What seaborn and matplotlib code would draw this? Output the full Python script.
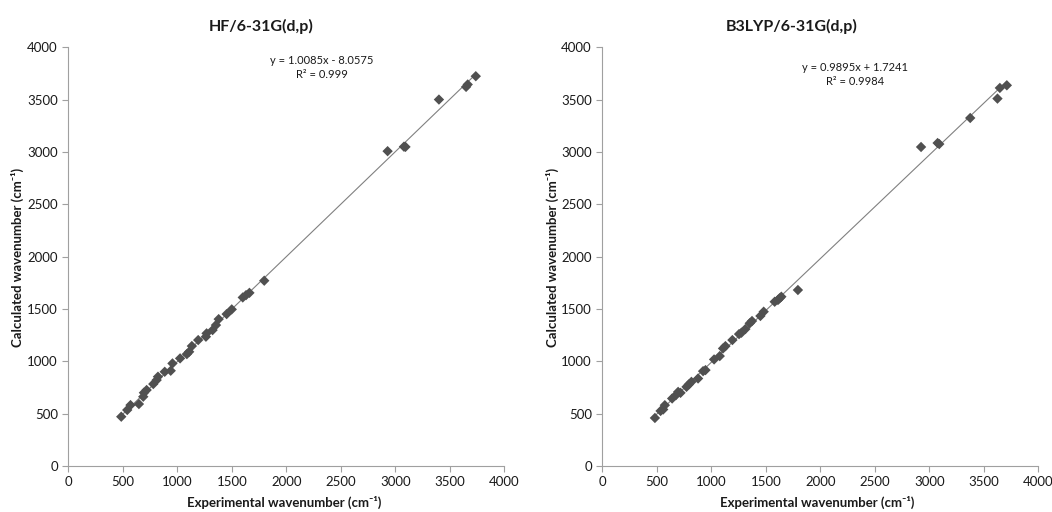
import numpy as np
import pandas as pd
import matplotlib
matplotlib.use('Agg')
from matplotlib import pyplot as plt
import seaborn as sns

# HF/6-31G(d,p): experimental vs calculated wavenumbers (cm-1)
hf_exp = [486, 541, 571, 648, 688, 694, 719, 780, 811, 823, 885, 940, 956, 1026,
          1088, 1109, 1134, 1192, 1263, 1269, 1324, 1355, 1380, 1453, 1500, 1601,
          1631, 1662, 1798, 2930, 3080, 3094, 3401, 3650, 3665, 3739]
hf_calc = [471, 535, 582, 592, 662, 700, 726, 783, 821, 853, 900, 910, 980, 1028,
           1069, 1091, 1146, 1203, 1235, 1267, 1298, 1346, 1403, 1451, 1496, 1610,
           1632, 1654, 1770, 3007, 3050, 3048, 3500, 3621, 3644, 3723]

# B3LYP/6-31G(d,p)
b3_exp = [483, 535, 559, 574, 641, 675, 696, 718, 773, 794, 818, 879, 925, 947,
          1026, 1078, 1108, 1130, 1194, 1255, 1277, 1313, 1353, 1374, 1451, 1481,
          1582, 1612, 1627, 1643, 1795, 2925, 3077, 3092, 3376, 3626, 3648, 3712]
b3_calc = [459, 526, 540, 581, 645, 676, 708, 699, 756, 779, 804, 836, 906, 916,
           1018, 1050, 1123, 1145, 1203, 1260, 1273, 1308, 1363, 1385, 1433, 1474,
           1569, 1586, 1602, 1617, 1681, 3047, 3085, 3075, 3324, 3509, 3611, 3636]

titles = ['HF/6-31G(d,p)', 'B3LYP/6-31G(d,p)']
equations = ['y = 1.0085x - 8.0575\nR² = 0.999',
             'y = 0.9895x + 1.7241\nR² = 0.9984']
ticks = [0, 500, 1000, 1500, 2000, 2500, 3000, 3500, 4000]

sns.set_style('white')
plt.rcParams['font.family'] = ['Lato', 'DejaVu Sans']

fig = plt.figure(figsize=(10.52, 5.12), dpi=100)
axes = [fig.add_axes([0.0649, 0.0898, 0.4144, 0.818]),
        fig.add_axes([0.5725, 0.0898, 0.4144, 0.818])]

datasets = [(hf_exp, hf_calc), (b3_exp, b3_calc)]
title_x = [0.248, 0.753]
xlabel_x = [0.270, 0.777]
ylabel_x = [0.017, 0.525]
eq_pos = [(0.306, 0.868), (0.813, 0.855)]

for i, ax in enumerate(axes):
    df = pd.DataFrame({'exp': datasets[i][0], 'calc': datasets[i][1]})
    sns.regplot(data=df, x='exp', y='calc', ax=ax, scatter=False, ci=None,
                truncate=True, line_kws={'color': '#808080', 'lw': 0.8})
    sns.scatterplot(data=df, x='exp', y='calc', ax=ax, marker='D', s=28,
                    color='#505050', edgecolor='none', zorder=3)
    ax.set_xlim(0, 4000)
    ax.set_ylim(0, 4000)
    ax.set_xticks(ticks)
    ax.set_yticks(ticks)
    ax.set_xlabel('')
    ax.set_ylabel('')
    for side in ['top', 'right']:
        ax.spines[side].set_visible(False)
    for side in ['left', 'bottom']:
        ax.spines[side].set_color('#a0a0a0')
        ax.spines[side].set_linewidth(0.8)
    ax.tick_params(axis='both', direction='out', length=4, width=0.8,
                   color='#a0a0a0', labelsize=9.5, labelcolor='#1a1a1a',
                   bottom=True, left=True)
    fig.text(title_x[i], 0.949, titles[i], ha='center', va='center',
             fontsize=11.5, fontweight='bold', color='#1a1a1a')
    fig.text(xlabel_x[i], 0.018, 'Experimental wavenumber (cm⁻¹)',
             ha='center', va='center', fontsize=9.5, fontweight='bold',
             color='#1a1a1a')
    fig.text(ylabel_x[i], 0.497, 'Calculated wavenumber (cm⁻¹)',
             ha='center', va='center', rotation=90, fontsize=9.5,
             fontweight='bold', color='#1a1a1a')
    fig.text(eq_pos[i][0], eq_pos[i][1], equations[i], ha='center',
             va='center', fontsize=8, color='#1a1a1a', linespacing=1.3)

fig.savefig('out.png', dpi=100)
